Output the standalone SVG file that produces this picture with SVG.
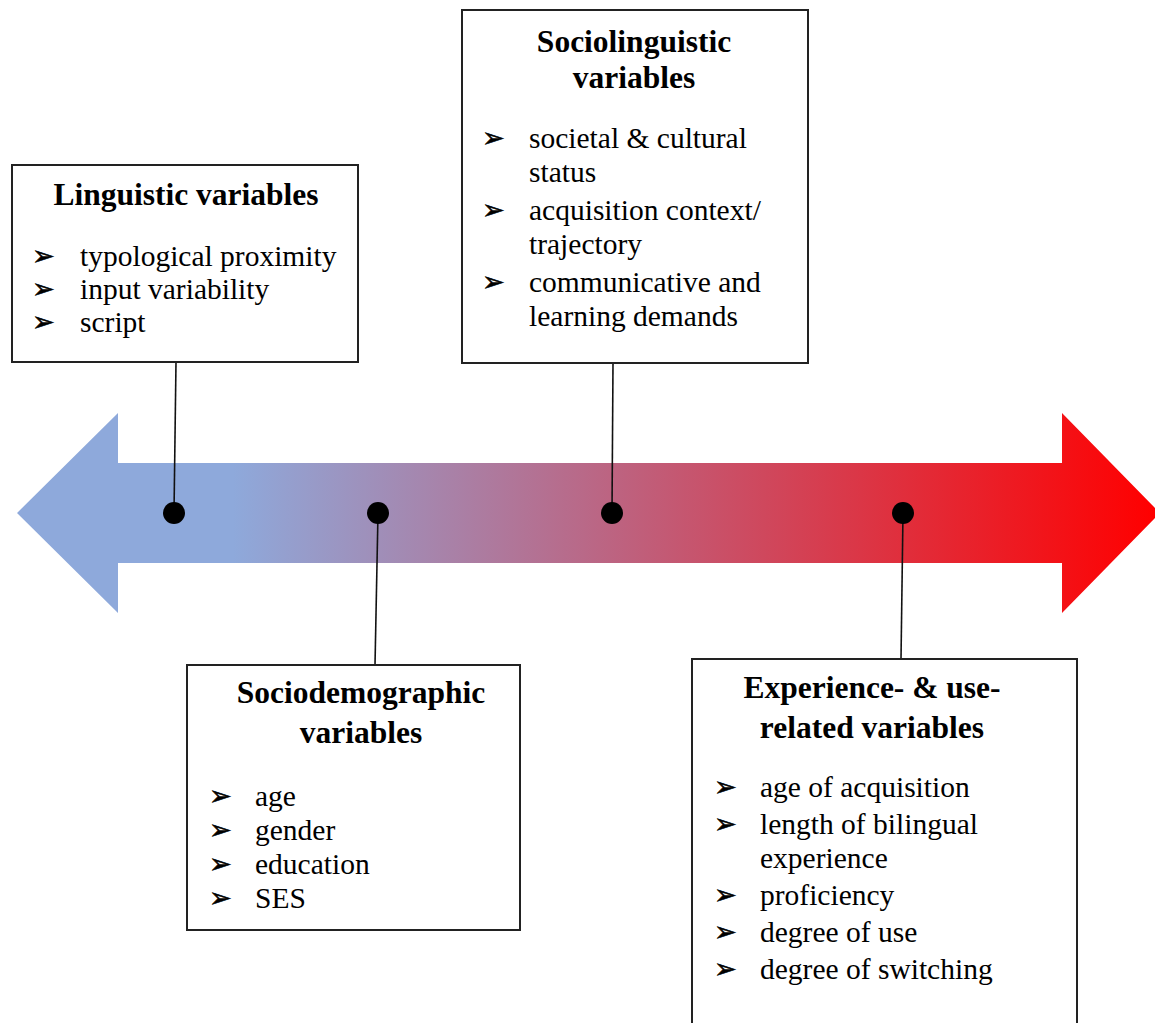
<svg xmlns="http://www.w3.org/2000/svg" width="1155" height="1023" viewBox="0 0 1155 1023">
<style>
.box{fill:#fff;stroke:#222;stroke-width:2}
.t{font-family:"Liberation Serif","Times New Roman",serif;font-size:31.5px;font-weight:bold;fill:#000;text-anchor:middle}
.b{font-family:"Liberation Serif","Times New Roman",serif;font-size:29.5px;fill:#000}
.bl{font-family:"DejaVu Sans",sans-serif;font-size:27px;fill:#000;stroke:#000;stroke-width:0.6}
.ln{stroke:#111;stroke-width:1.6;fill:none}
</style>
<defs>
<linearGradient id="g" gradientUnits="userSpaceOnUse" x1="17" y1="0" x2="1155" y2="0">
<stop offset="0" stop-color="#8EA9DB"/>
<stop offset="0.19" stop-color="#8EA9DB"/>
<stop offset="1" stop-color="#FF0000"/>
</linearGradient>
</defs>
<g id="axis">
<polygon points="17,513 118,413 118,463 1062,463 1062,413 1160,513 1062,613 1062,563 118,563 118,613" fill="url(#g)"/>
</g>
<g id="connectors">
<line class="ln" x1="176" y1="362" x2="174" y2="513"/>
<line class="ln" x1="613" y1="363" x2="612" y2="513"/>
<line class="ln" x1="378" y1="513" x2="375" y2="665"/>
<line class="ln" x1="903" y1="513" x2="901" y2="659"/>
<circle cx="174" cy="513" r="11" fill="#000"/>
<circle cx="378" cy="513" r="11" fill="#000"/>
<circle cx="612" cy="513" r="11" fill="#000"/>
<circle cx="903" cy="513" r="11" fill="#000"/>
</g>
<g id="linguistic">
<rect class="box" x="12" y="165" width="346" height="197"/>
<text class="t" x="186" y="205">Linguistic variables</text>
<text class="bl" x="32" y="265">➢</text><text class="b" x="80" y="266">typological proximity</text>
<text class="bl" x="32" y="298">➢</text><text class="b" x="80" y="299">input variability</text>
<text class="bl" x="32" y="331">➢</text><text class="b" x="80" y="332">script</text>
</g>
<g id="sociolinguistic">
<rect class="box" x="462" y="10" width="346" height="353"/>
<text class="t" x="634" y="52">Sociolinguistic</text>
<text class="t" x="634" y="88">variables</text>
<text class="bl" x="482" y="147">➢</text><text class="b" x="529" y="148">societal &amp; cultural</text>
<text class="b" x="529" y="182">status</text>
<text class="bl" x="482" y="219">➢</text><text class="b" x="529" y="220">acquisition context/</text>
<text class="b" x="529" y="254">trajectory</text>
<text class="bl" x="482" y="291">➢</text><text class="b" x="529" y="292">communicative and</text>
<text class="b" x="529" y="326">learning demands</text>
</g>
<g id="sociodemographic">
<rect class="box" x="187" y="665" width="333" height="265"/>
<text class="t" x="361" y="703">Sociodemographic</text>
<text class="t" x="361" y="743">variables</text>
<text class="bl" x="209" y="805">➢</text><text class="b" x="255" y="806">age</text>
<text class="bl" x="209" y="839">➢</text><text class="b" x="255" y="840">gender</text>
<text class="bl" x="209" y="873">➢</text><text class="b" x="255" y="874">education</text>
<text class="bl" x="209" y="907">➢</text><text class="b" x="255" y="908">SES</text>
</g>
<g id="experience">
<rect class="box" x="692" y="659" width="385" height="380"/>
<text class="t" x="872" y="698">Experience- &amp; use-</text>
<text class="t" x="872" y="738">related variables</text>
<text class="bl" x="714" y="796">➢</text><text class="b" x="760" y="797">age of acquisition</text>
<text class="bl" x="714" y="833">➢</text><text class="b" x="760" y="834">length of bilingual</text>
<text class="b" x="760" y="868">experience</text>
<text class="bl" x="714" y="904">➢</text><text class="b" x="760" y="905">proficiency</text>
<text class="bl" x="714" y="941">➢</text><text class="b" x="760" y="942">degree of use</text>
<text class="bl" x="714" y="978">➢</text><text class="b" x="760" y="979">degree of switching</text>
</g>
</svg>
